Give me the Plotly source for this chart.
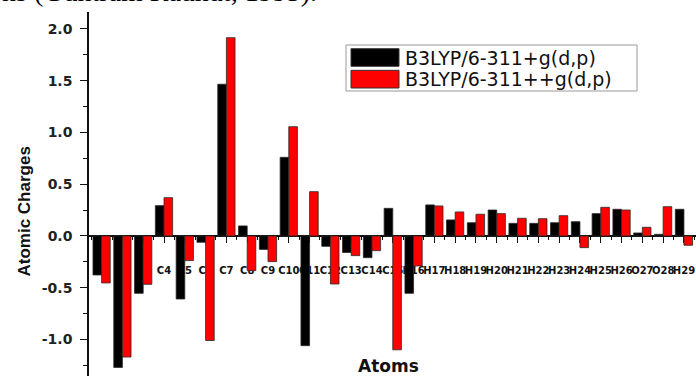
import plotly.graph_objects as go

atoms = ["N1", "C2", "C3", "C4", "C5", "C6", "C7", "C8", "C9", "C10", "C11", "C12", "C13", "C14", "C15",
         "N16", "H17", "H18", "H19", "H20", "H21", "H22", "H23", "H24", "H25", "H26", "O27", "O28", "H29"]
series_names = ["B3LYP/6-311+g(d,p)", "B3LYP/6-311++g(d,p)"]
charges_plus = [-0.377, -1.27, -0.554, 0.293, -0.609, -0.061, 1.466, 0.097, -0.13, 0.76, -1.06, -0.10,
                -0.16, -0.21, 0.267, -0.554, 0.30, 0.155, 0.128, 0.251, 0.122, 0.122, 0.128, 0.138,
                0.216, 0.258, 0.029, 0.016, 0.258]
charges_plusplus = [-0.454, -1.17, -0.467, 0.37, -0.238, -1.01, 1.916, -0.335, -0.248, 1.056, 0.428, -0.464,
                    -0.19, -0.142, -1.10, -0.29, 0.29, 0.232, 0.21, 0.216, 0.171, 0.167, 0.196, -0.113,
                    0.277, 0.251, 0.084, 0.283, -0.09]
y_tick_vals = [-1.0, -0.5, 0.0, 0.5, 1.0, 1.5, 2.0]
y_tick_text = ["-1.0", "-0.5", "0.0", "0.5", "1.0", "1.5", "2.0"]
colors = ["#000000", "#ff0000"]

W, H = 696, 376
ML, MR, MT, MB = 89, 0, 12, 0
PW, PH = W - ML - MR, H - MT - MB
YMIN, YMAX = -1.353, 2.164
XMIN, XMAX = -0.606, 28.58

def px_x(p):
    return (p - ML) / PW

def px_y(p):
    return 1 - (p - MT) / PH

xs = list(range(len(atoms)))
fig = go.Figure()
for name, vals, col in zip(series_names, [charges_plus, charges_plusplus], colors):
    fig.add_trace(go.Bar(x=xs, y=vals, name=name, marker=dict(color=col, line=dict(color="#2a2a2a", width=0.8)),
                         showlegend=False))

zero_pos = (0 - YMIN) / (YMAX - YMIN)

fig.update_layout(
    width=W, height=H,
    margin=dict(l=ML, r=MR, t=MT, b=MB, pad=0, autoexpand=False),
    paper_bgcolor="white", plot_bgcolor="white",
    barmode="group", bargap=0.17, bargroupgap=0,
    xaxis=dict(range=[XMIN, XMAX], tickmode="array", tickvals=xs, ticktext=atoms, tickangle=0,
               anchor="free", position=zero_pos, showgrid=False, zeroline=False, automargin=False,
               showline=True, linecolor="#111", linewidth=1.5,
               ticks="outside", ticklen=6, tickwidth=1.2, tickcolor="#111",
               ticklabelstandoff=19,
               minor=dict(tickmode="linear", tick0=0.5, dtick=1, ticks="outside", ticklen=3, tickcolor="#111"),
               tickfont=dict(family="DejaVu Sans", size=10, color="#111", weight="bold"),
               layer="below traces"),
    yaxis=dict(range=[YMIN, YMAX], tickmode="array", tickvals=y_tick_vals, ticktext=y_tick_text,
               showgrid=False, zeroline=False, showline=True, linecolor="#111", linewidth=1.5, automargin=False,
               ticks="outside", ticklen=7, tickwidth=1.2, tickcolor="#111", ticklabelstandoff=5,
               minor=dict(tickmode="linear", tick0=0.25, dtick=0.5, ticks="outside", ticklen=4, tickcolor="#111"),
               tickfont=dict(family="DejaVu Sans", size=14, color="#222", weight="bold")),
    font=dict(family="Liberation Sans"),
)

# Axis titles
fig.add_annotation(text="<b>Atomic Charges</b>", xref="paper", yref="paper", x=px_x(24), y=px_y(211.5),
                   xanchor="center", yanchor="middle",
                   textangle=-90, showarrow=False, font=dict(family="Liberation Sans", size=17, color="#111"))
fig.add_annotation(text="<b>Atoms</b>", xref="paper", yref="paper", x=px_x(388), y=px_y(366),
                   xanchor="center", yanchor="middle",
                   showarrow=False, font=dict(family="DejaVu Sans", size=17, color="#111"))

# Cropped caption text at top (cut off by the page edge, as in the reference)
fig.add_annotation(text="ns (Guntram Rauhut, 1995).", xref="paper", yref="paper", x=px_x(0), y=px_y(9),
                   xanchor="left", yanchor="bottom", showarrow=False,
                   font=dict(family="Liberation Serif", size=28, color="#000"))

# Legend (drawn manually to match the wide swatches)
fig.add_shape(type="rect", xref="paper", yref="paper", x0=px_x(346), x1=px_x(637), y0=px_y(91), y1=px_y(45),
              line=dict(color="#999", width=1), fillcolor="white", layer="above")
sw_rows = [(48.7, 66.3), (70.3, 88.0)]
for (top, bot), col, name in zip(sw_rows, colors, series_names):
    fig.add_shape(type="rect", xref="paper", yref="paper", x0=px_x(351), x1=px_x(399), y0=px_y(bot), y1=px_y(top),
                  line=dict(color="#333", width=1), fillcolor=col, layer="above")
    fig.add_annotation(text=name, xref="paper", yref="paper", x=px_x(403), y=px_y((top + bot) / 2),
                       xanchor="left", yanchor="middle", showarrow=False,
                       font=dict(family="DejaVu Sans", size=19, color="#111"))

fig.write_html("out.html", config={"displayModeBar": False},
               post_script="document.body.style.margin='0';")
